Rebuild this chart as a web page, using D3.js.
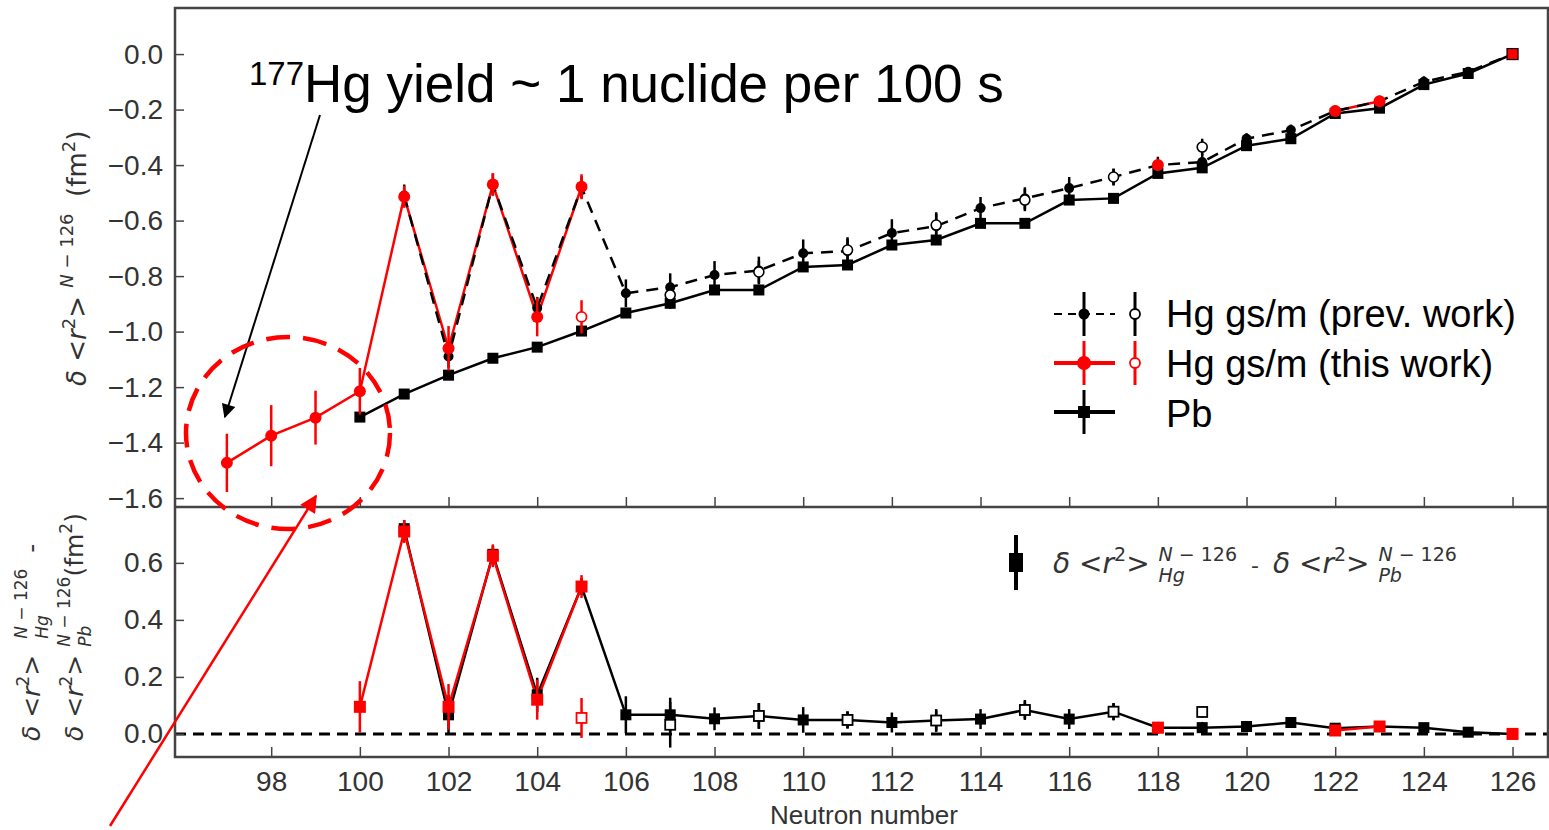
<!DOCTYPE html>
<html>
<head>
<meta charset="utf-8">
<script src="https://cdn.jsdelivr.net/npm/d3@7"></script>
<style>
  body { margin: 0; background: #fff; }
  svg { display: block; }
</style>
</head>
<body>
<div id="chart"></div>
<script>
// ---- data ----
// top panel: delta <r^2> relative to N = 126 (fm^2)
const hgPrevN   = [101,102,103,104,105,106,107,108,109,110,111,112,113,114,115,116,117,118,119,120,121,122,123,124,125,126];
const hgPrevR   = [-0.51,-1.09,-0.47,-0.915,-0.48,-0.862,-0.84,-0.796,-0.78,-0.718,-0.71,-0.645,-0.62,-0.555,-0.52,-0.483,-0.443,-0.40,-0.389,-0.305,-0.274,-0.205,-0.17,-0.10,-0.064,0.0];
const hgPrevErr = [0.04,0.04,0.04,0.04,0.04,0.05,0.05,0.05,0.05,0.05,0.05,0.05,0.05,0.04,0.04,0.04,0.03,0.03,0.03,0.02,0.02,0.02,0.02,0.02,0.01,0.0];

const hgPrevIsoN   = [107,109,111,113,115,117,119];
const hgPrevIsoR   = [-0.868,-0.785,-0.706,-0.616,-0.526,-0.443,-0.335];
const hgPrevIsoErr = [0.04,0.04,0.04,0.04,0.04,0.03,0.03];

const hgThisN   = [97,98,99,100,101,102,103,104,105,118,122,123];
const hgThisR   = [-1.473,-1.375,-1.31,-1.215,-0.514,-1.06,-0.47,-0.947,-0.478,-0.40,-0.205,-0.17];
const hgThisErr = [0.105,0.11,0.097,0.084,0.04,0.08,0.04,0.07,0.045,0.02,0.015,0.015];

const hgThisIsoN   = [105];
const hgThisIsoR   = [-0.947];
const hgThisIsoErr = [0.06];

const hgRefN = [126];
const hgRefR = [0.0];

const pbN   = [100,101,102,103,104,105,106,107,108,109,110,111,112,113,114,115,116,117,118,119,120,121,122,123,124,125,126];
const pbR   = [-1.308,-1.225,-1.157,-1.096,-1.056,-0.998,-0.933,-0.898,-0.85,-0.85,-0.767,-0.76,-0.688,-0.67,-0.61,-0.61,-0.526,-0.52,-0.43,-0.41,-0.33,-0.305,-0.214,-0.195,-0.11,-0.07,0.0];
const pbErr = [0.01,0.01,0.01,0.01,0.01,0.01,0.01,0.02,0.01,0.01,0.01,0.01,0.01,0.01,0.01,0.01,0.01,0.01,0.01,0.01,0.01,0.01,0.01,0.01,0.01,0.01,0.0];

// bottom panel: Hg minus Pb
const diffN   = [101,102,103,104,105,106,107,108,109,110,111,112,113,114,115,116,117,118,119,120,121,122,123,124,125,126];
const diffV   = [0.72,0.067,0.63,0.137,0.517,0.067,0.067,0.053,0.063,0.049,0.049,0.04,0.047,0.052,0.084,0.052,0.078,0.022,0.022,0.026,0.04,0.02,0.026,0.022,0.006,0.0];
const diffErr = [0.03,0.07,0.03,0.06,0.03,0.065,0.06,0.04,0.045,0.045,0.03,0.035,0.035,0.035,0.035,0.035,0.03,0.02,0.02,0.015,0.015,0.01,0.01,0.01,0.01,0.0];

const diffIsoN   = [107,109,111,113,115,117,119];
const diffIsoV   = [0.032,0.063,0.049,0.047,0.084,0.078,0.077];
const diffIsoErr = [0.08,0.045,0.03,0.04,0.03,0.03,0.02];

const diffThisN   = [100,101,102,103,104,105,118,122,123,126];
const diffThisV   = [0.095,0.71,0.095,0.625,0.12,0.517,0.022,0.012,0.026,0.0];
const diffThisErr = [0.09,0.04,0.08,0.04,0.07,0.04,0.02,0.01,0.01,0.0];

const diffThisIsoN   = [105];
const diffThisIsoV   = [0.056];
const diffThisIsoErr = [0.07];

const xTicks    = [98,100,102,104,106,108,110,112,114,116,118,120,122,124,126];
const yTopTicks = [0.0,-0.2,-0.4,-0.6,-0.8,-1.0,-1.2,-1.4,-1.6];
const yBotTicks = [0.0,0.2,0.4,0.6];

// ---- layout ----
const w = 1549;
const h = 830;
const left = 175, right = 1548;
const top1 = 8, mid = 507, bot2 = 757;
const RED = '#ff0000';
const SANS = '"Liberation Sans", Arial, sans-serif';

const svg = d3.select('#chart').append('svg').attr('width', w).attr('height', h);

const x = d3.scaleLinear().domain([95.83, 126.8]).range([left, right]);
const yTop = d3.scaleLinear().domain([-1.632, 0.166]).range([mid, top1]);
const yBot = d3.scaleLinear().domain([-0.081, 0.796]).range([bot2, mid]);

const zip = (ns, vs, es) => ns.map((n, i) => ({ n: n, v: vs[i], e: es ? es[i] : 0 }));

// split into runs of consecutive N, so lines break over gaps
const runs = (pts) => {
    const out = [];
    pts.forEach((p, i) => {
        if (i === 0 || p.n - pts[i - 1].n > 1) out.push([]);
        out[out.length - 1].push(p);
    });
    return out.filter(r => r.length > 1);
};

const drawLine = (g, pts, y, color, width, dash) => {
    const line = d3.line().x(d => x(d.n)).y(d => y(d.v));
    g.selectAll(null).data(runs(pts)).enter().append('path')
        .attr('d', line)
        .attr('fill', 'none')
        .attr('stroke', color)
        .attr('stroke-width', width)
        .attr('stroke-dasharray', dash || null);
};

const drawErr = (g, pts, y, color, width) => {
    g.selectAll(null).data(pts.filter(d => d.e > 0)).enter().append('line')
        .attr('x1', d => x(d.n)).attr('x2', d => x(d.n))
        .attr('y1', d => y(d.v - d.e)).attr('y2', d => y(d.v + d.e))
        .attr('stroke', color).attr('stroke-width', width);
};

const drawCircles = (g, pts, y, r, fill, stroke, sw) => {
    g.selectAll(null).data(pts).enter().append('circle')
        .attr('cx', d => x(d.n)).attr('cy', d => y(d.v)).attr('r', r)
        .attr('fill', fill).attr('stroke', stroke).attr('stroke-width', sw);
};

const drawSquares = (g, pts, y, s, fill, stroke, sw) => {
    g.selectAll(null).data(pts).enter().append('rect')
        .attr('x', d => x(d.n) - s / 2).attr('y', d => y(d.v) - s / 2)
        .attr('width', s).attr('height', s)
        .attr('fill', fill).attr('stroke', stroke).attr('stroke-width', sw);
};

// ---- top panel ----
const prev = zip(hgPrevN, hgPrevR, hgPrevErr);
const prevIso = zip(hgPrevIsoN, hgPrevIsoR, hgPrevIsoErr);
const thisW = zip(hgThisN, hgThisR, hgThisErr);
const thisIso = zip(hgThisIsoN, hgThisIsoR, hgThisIsoErr);
const ref = zip(hgRefN, hgRefR);
const pb = zip(pbN, pbR, pbErr);

const gTop = svg.append('g');
drawLine(gTop, pb, yTop, '#000', 2.5);
drawLine(gTop, thisW, yTop, RED, 2.5);
drawLine(gTop, prev, yTop, '#000', 2.5, '12 8');
drawErr(gTop, pb, yTop, '#000', 2.5);
drawSquares(gTop, pb, yTop, 11, '#000', 'none', 0);
drawErr(gTop, prev, yTop, '#000', 2.5);
drawErr(gTop, prevIso, yTop, '#000', 2.5);
drawCircles(gTop, prev, yTop, 5, '#000', 'none', 0);
drawCircles(gTop, prevIso, yTop, 5, '#fff', '#000', 1.6);
drawErr(gTop, thisW, yTop, RED, 2.5);
drawErr(gTop, thisIso, yTop, RED, 2.5);
drawCircles(gTop, thisW, yTop, 6, RED, 'none', 0);
drawCircles(gTop, thisIso, yTop, 5, '#fff', RED, 1.8);
drawSquares(gTop, ref, yTop, 11, RED, '#000', 1.2);

// ---- bottom panel ----
const diff = zip(diffN, diffV, diffErr);
const diffIso = zip(diffIsoN, diffIsoV, diffIsoErr);
const diffThis = zip(diffThisN, diffThisV, diffThisErr);
const diffThisIso = zip(diffThisIsoN, diffThisIsoV, diffThisIsoErr);

const gBot = svg.append('g');
gBot.append('line')
    .attr('x1', left).attr('x2', right)
    .attr('y1', yBot(0)).attr('y2', yBot(0))
    .attr('stroke', '#000').attr('stroke-width', 3).attr('stroke-dasharray', '11 7');
drawLine(gBot, diff, yBot, '#000', 2.5);
drawLine(gBot, diffThis, yBot, RED, 2.5);
drawErr(gBot, diff, yBot, '#000', 2.5);
drawErr(gBot, diffIso, yBot, '#000', 2.5);
drawSquares(gBot, diff, yBot, 11, '#000', 'none', 0);
drawSquares(gBot, diffIso, yBot, 10, '#fff', '#000', 1.8);
drawErr(gBot, diffThis, yBot, RED, 2.5);
drawErr(gBot, diffThisIso, yBot, RED, 2.5);
drawSquares(gBot, diffThis, yBot, 12, RED, 'none', 0);
drawSquares(gBot, diffThisIso, yBot, 10, '#fff', RED, 1.8);

// ---- axes ----
const fmt = d3.format('.1f');
svg.append('g').attr('transform', 'translate(' + left + ',0)')
    .call(d3.axisLeft(yTop).tickValues(yTopTicks).tickFormat(fmt).tickSizeInner(-9).tickSizeOuter(0).tickPadding(12))
    .call(g => g.select('.domain').remove());
svg.append('g').attr('transform', 'translate(' + left + ',0)')
    .call(d3.axisLeft(yBot).tickValues(yBotTicks).tickFormat(fmt).tickSizeInner(-9).tickSizeOuter(0).tickPadding(12))
    .call(g => g.select('.domain').remove());
svg.append('g').attr('transform', 'translate(0,' + mid + ')')
    .call(d3.axisBottom(x).tickValues(xTicks).tickFormat('').tickSizeInner(-10).tickSizeOuter(0))
    .call(g => g.select('.domain').remove());
svg.append('g').attr('transform', 'translate(0,' + bot2 + ')')
    .call(d3.axisBottom(x).tickValues(xTicks).tickFormat(d3.format('d')).tickSizeInner(-10).tickSizeOuter(0).tickPadding(14))
    .call(g => g.select('.domain').remove());
svg.selectAll('.tick line').attr('stroke', '#444').attr('stroke-width', 1.5);
svg.selectAll('.tick text').style('font-family', SANS).style('font-size', '28px').attr('fill', '#333');

svg.append('rect')
    .attr('x', left).attr('y', top1).attr('width', right - left).attr('height', bot2 - top1)
    .attr('fill', 'none').attr('stroke', '#444').attr('stroke-width', 2.5);
svg.append('line')
    .attr('x1', left).attr('x2', right).attr('y1', mid).attr('y2', mid)
    .attr('stroke', '#444').attr('stroke-width', 2.5);

svg.append('text')
    .attr('x', 864).attr('y', 824).attr('text-anchor', 'middle')
    .style('font-family', SANS).style('font-size', '26px').attr('fill', '#333')
    .text('Neutron number');

// ---- math-style labels ----
// parts: {t:[[text, italic],...], size, dy} or {sup:[...], sub:[...], size, up, down}
const mathLabel = (g, parts, color) => {
    let cx = 0;
    const put = (runsList, size, dy) => {
        const t = g.append('text').attr('x', cx).attr('y', dy)
            .style('font-family', '"DejaVu Sans", sans-serif').style('font-size', size + 'px')
            .style('white-space', 'pre').attr('fill', color);
        runsList.forEach(r => t.append('tspan').style('font-style', r[1] ? 'italic' : 'normal').text(r[0]));
        return t.node().getComputedTextLength();
    };
    parts.forEach(p => {
        if (p.sup) {
            const a = put(p.sup, p.size, -p.up);
            const b = p.sub ? put(p.sub, p.size, p.down) : 0;
            cx += Math.max(a, b);
        } else {
            cx += put(p.t, p.size, p.dy || 0);
        }
    });
    return cx;
};

const NB = '\u00a0';

// top y title
mathLabel(svg.append('g').attr('transform', 'translate(86,386) rotate(-90)'), [
    { t: [['δ', 1], [NB + '<', 0], ['r', 1]], size: 26 },
    { sup: [['2', 0]], size: 18, up: 11 },
    { t: [['>' + NB, 0]], size: 26 },
    { sup: [['N', 1], [NB + '−' + NB + '126', 0]], size: 18, up: 13 },
    { t: [[NB + NB + '(fm', 0]], size: 26 },
    { sup: [['2', 0]], size: 18, up: 11 },
    { t: [[')', 0]], size: 26 }
], '#333');

// bottom y title, two lines
mathLabel(svg.append('g').attr('transform', 'translate(40,741) rotate(-90)'), [
    { t: [['δ', 1], [NB + '<', 0], ['r', 1]], size: 25 },
    { sup: [['2', 0]], size: 17, up: 11 },
    { t: [['>' + NB + NB, 0]], size: 25 },
    { sup: [['N', 1], [NB + '−' + NB + '126', 0]], sub: [['Hg', 1]], size: 17, up: 13, down: 8 },
    { t: [[NB + NB + '-', 0]], size: 25 }
], '#333');
mathLabel(svg.append('g').attr('transform', 'translate(83,741) rotate(-90)'), [
    { t: [['δ', 1], [NB + '<', 0], ['r', 1]], size: 25 },
    { sup: [['2', 0]], size: 17, up: 11 },
    { t: [['>' + NB, 0]], size: 25 },
    { sup: [['N', 1], [NB + '−' + NB + '126', 0]], sub: [['Pb', 1]], size: 17, up: 13, down: 8 },
    { t: [['(fm', 0]], size: 25 },
    { sup: [['2', 0]], size: 17, up: 11 },
    { t: [[')', 0]], size: 25 }
], '#333');

// ---- top legend ----
const lg = svg.append('g');
const legRows = [
    { y: 314, color: '#000', dash: '8 6', lw: 2, mk: 'circle', iso: true, label: 'Hg gs/m (prev. work)', base: 327 },
    { y: 363, color: RED, dash: null, lw: 4, mk: 'circle', iso: true, label: 'Hg gs/m (this work)', base: 377 },
    { y: 412, color: '#000', dash: null, lw: 4, mk: 'square', iso: false, label: 'Pb', base: 427 }
];
legRows.forEach(r => {
    lg.append('line').attr('x1', 1054).attr('x2', 1115).attr('y1', r.y).attr('y2', r.y)
        .attr('stroke', r.color).attr('stroke-width', r.lw).attr('stroke-dasharray', r.dash);
    lg.append('line').attr('x1', 1084).attr('x2', 1084).attr('y1', r.y - 22).attr('y2', r.y + 22)
        .attr('stroke', r.color).attr('stroke-width', 3);
    if (r.mk === 'circle') {
        lg.append('circle').attr('cx', 1084).attr('cy', r.y).attr('r', r.color === RED ? 7 : 5.5).attr('fill', r.color);
    } else {
        lg.append('rect').attr('x', 1078).attr('y', r.y - 6).attr('width', 12).attr('height', 12).attr('fill', r.color);
    }
    if (r.iso) {
        lg.append('line').attr('x1', 1135).attr('x2', 1135).attr('y1', r.y - 22).attr('y2', r.y + 22)
            .attr('stroke', r.color).attr('stroke-width', 3);
        lg.append('circle').attr('cx', 1135).attr('cy', r.y).attr('r', 5)
            .attr('fill', '#fff').attr('stroke', r.color).attr('stroke-width', 1.8);
    }
    lg.append('text').attr('x', 1166).attr('y', r.base)
        .style('font-family', SANS).style('font-size', '38px').attr('fill', '#000')
        .text(r.label);
});

// ---- bottom legend ----
svg.append('line').attr('x1', 1016).attr('x2', 1016).attr('y1', 535).attr('y2', 590)
    .attr('stroke', '#000').attr('stroke-width', 4);
svg.append('rect').attr('x', 1009).attr('y', 553).attr('width', 14).attr('height', 19).attr('fill', '#000');
mathLabel(svg.append('g').attr('transform', 'translate(1053,573)'), [
    { t: [['δ', 1], [NB + '<', 0], ['r', 1]], size: 28 },
    { sup: [['2', 0]], size: 19, up: 12 },
    { t: [['>' + NB, 0]], size: 28 },
    { sup: [['N', 1], [NB + '−' + NB + '126', 0]], sub: [['Hg', 1]], size: 19, up: 12, down: 9 },
    { t: [[NB + NB + '-' + NB + NB, 0]], size: 22 },
    { t: [['δ', 1], [NB + '<', 0], ['r', 1]], size: 28 },
    { sup: [['2', 0]], size: 19, up: 12 },
    { t: [['>' + NB, 0]], size: 28 },
    { sup: [['N', 1], [NB + '−' + NB + '126', 0]], sub: [['Pb', 1]], size: 19, up: 12, down: 9 }
], '#333');

// ---- annotations ----
const defs = svg.append('defs');
[['arrBlack', '#000'], ['arrRed', RED]].forEach(a => {
    defs.append('marker').attr('id', a[0]).attr('viewBox', '0 0 10 10')
        .attr('refX', 9).attr('refY', 5).attr('markerWidth', 8).attr('markerHeight', 7)
        .attr('markerUnits', 'strokeWidth').attr('orient', 'auto')
        .append('path').attr('d', 'M0,0 L10,5 L0,10 z').attr('fill', a[1]);
});

const ann = svg.append('text').attr('y', 102).attr('x', 249)
    .style('font-family', SANS).attr('fill', '#000');
ann.append('tspan').style('font-size', '33px').attr('dy', -17).text('177');
ann.append('tspan').style('font-size', '53px').attr('dy', 17).text('Hg yield ~ 1 nuclide per 100 s');

svg.append('line').attr('x1', 320).attr('y1', 115).attr('x2', x(97) - 2).attr('y2', 417)
    .attr('stroke', '#000').attr('stroke-width', 2).attr('marker-end', 'url(#arrBlack)');

svg.append('ellipse').attr('cx', 288).attr('cy', 433).attr('rx', 102).attr('ry', 96)
    .attr('fill', 'none').attr('stroke', RED).attr('stroke-width', 4.5).attr('stroke-dasharray', '24 13');

svg.append('line').attr('x1', 110).attr('y1', 826).attr('x2', 316).attr('y2', 496)
    .attr('stroke', RED).attr('stroke-width', 2.5).attr('marker-end', 'url(#arrRed)');
</script>
</body>
</html>
